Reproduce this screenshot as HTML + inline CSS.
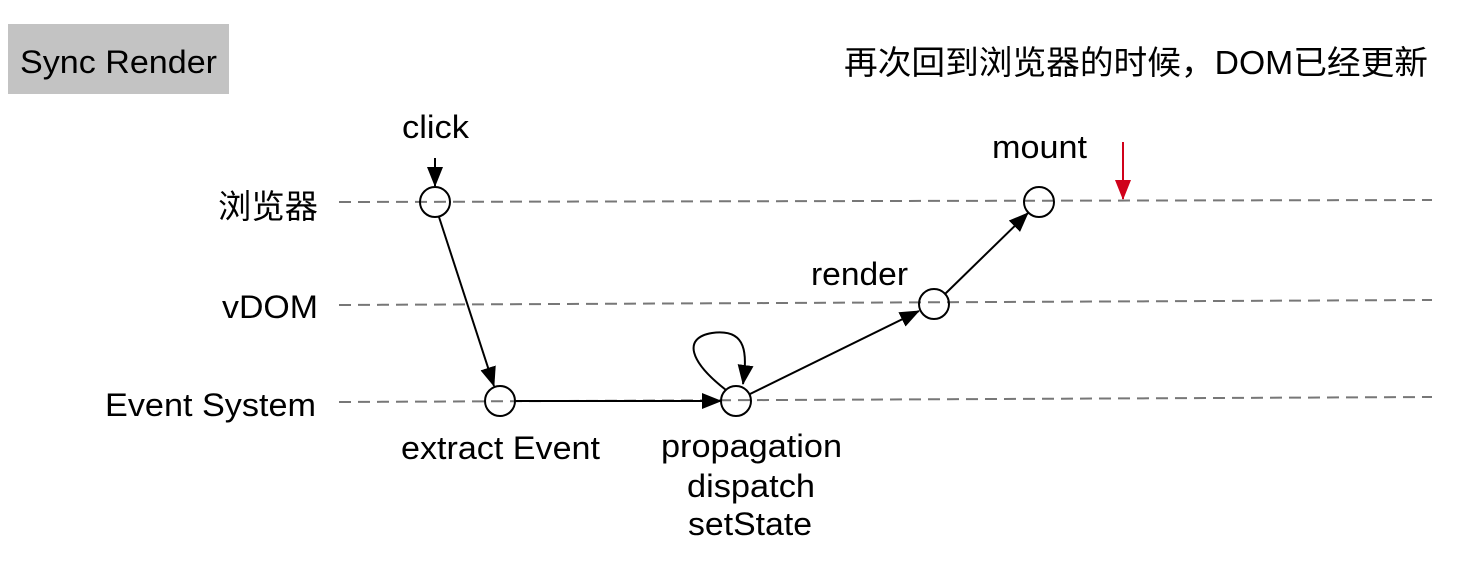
<!DOCTYPE html>
<html><head><meta charset="utf-8"><style>
html,body{margin:0;padding:0;background:#fff;}
svg{display:block;}
text{font-family:"Liberation Sans","Noto Sans CJK SC",sans-serif;fill:#000;}
</style></head><body>
<svg width="1478" height="572" viewBox="0 0 1478 572" xmlns="http://www.w3.org/2000/svg">
<defs>
<marker id="ahb" markerWidth="20" markerHeight="16" refX="19" refY="8" orient="auto" markerUnits="userSpaceOnUse" viewBox="0 0 20 16">
<path d="M0,0 L20,8 L0,16 z" fill="#000"/>
</marker>
<marker id="ahr" markerWidth="20" markerHeight="16" refX="19" refY="8" orient="auto" markerUnits="userSpaceOnUse" viewBox="0 0 20 16">
<path d="M0,0 L20,8 L0,16 z" fill="#d0021b"/>
</marker>
</defs>
<rect x="8" y="24" width="221" height="70" fill="#c3c3c3"/>
<text x="20" y="73" font-size="32" textLength="197" lengthAdjust="spacingAndGlyphs">Sync Render</text>
<text x="844" y="74" font-size="33" textLength="584" lengthAdjust="spacingAndGlyphs">再次回到浏览器的时候，DOM已经更新</text>

<g stroke="#777" stroke-width="2" stroke-dasharray="12,7" fill="none">
<line x1="339" y1="202" x2="1432" y2="200"/>
<line x1="339" y1="305" x2="1432" y2="300"/>
<line x1="339" y1="402" x2="1432" y2="397"/>
</g>

<text x="218" y="218" font-size="33" textLength="100" lengthAdjust="spacingAndGlyphs">浏览器</text>
<text x="222" y="318" font-size="32" textLength="96" lengthAdjust="spacingAndGlyphs">vDOM</text>
<text x="105" y="416" font-size="32" textLength="211" lengthAdjust="spacingAndGlyphs">Event System</text>

<text x="402" y="138" font-size="32" textLength="67" lengthAdjust="spacingAndGlyphs">click</text>
<text x="992" y="158" font-size="32" textLength="95" lengthAdjust="spacingAndGlyphs">mount</text>
<text x="811" y="285" font-size="32" textLength="97" lengthAdjust="spacingAndGlyphs">render</text>
<text x="401" y="459" font-size="32" textLength="199" lengthAdjust="spacingAndGlyphs">extract Event</text>
<text x="661" y="457" font-size="32" textLength="181" lengthAdjust="spacingAndGlyphs">propagation</text>
<text x="687" y="497" font-size="32" textLength="128" lengthAdjust="spacingAndGlyphs">dispatch</text>
<text x="688" y="535" font-size="32" textLength="124" lengthAdjust="spacingAndGlyphs">setState</text>

<g stroke="#000" stroke-width="2" fill="none">
<line x1="435" y1="158" x2="435" y2="186" marker-end="url(#ahb)"/>
<line x1="439" y1="217" x2="494" y2="386" marker-end="url(#ahb)"/>
<line x1="515" y1="401" x2="721" y2="401" marker-end="url(#ahb)"/>
<line x1="750" y1="394" x2="919" y2="311" marker-end="url(#ahb)"/>
<line x1="945" y1="294" x2="1028" y2="213" marker-end="url(#ahb)"/>
<path d="M726,390 C690,362 682,338 712,333 C748,328 747,355 743,384" marker-end="url(#ahb)"/>
</g>
<line x1="1123" y1="142" x2="1123" y2="199" stroke="#d0021b" stroke-width="2" marker-end="url(#ahr)"/>

<g stroke="#000" stroke-width="2" fill="none">
<circle cx="435" cy="202" r="15"/>
<circle cx="1039" cy="202" r="15"/>
<circle cx="934" cy="304" r="15"/>
<circle cx="500" cy="401" r="15"/>
<circle cx="736" cy="401" r="15"/>
</g>
</svg>
</body></html>
